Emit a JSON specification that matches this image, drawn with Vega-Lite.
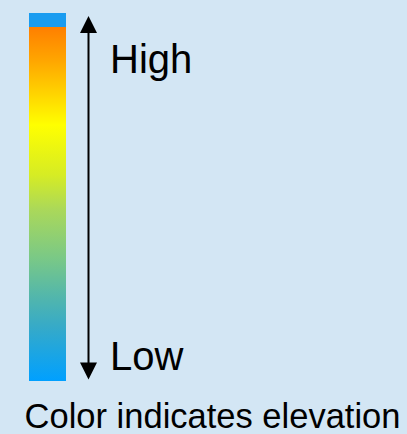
{
  "$schema": "https://vega.github.io/schema/vega-lite/v6.json",
  "width": 407,
  "height": 434,
  "padding": 0,
  "autosize": "none",
  "background": "#d3e6f4",
  "config": {"view": {"stroke": null}, "font": "Liberation Sans"},
  "datasets": {
    "bar": [
      {"part": "cap", "x0": 29, "x1": 66, "top": 13, "bottom": 27},
      {"part": "ramp", "x0": 29, "x1": 66, "top": 27, "bottom": 381}
    ],
    "arrow": [
      {"end": "high", "x": 88.5, "y": 24.5},
      {"end": "low", "x": 88.5, "y": 371}
    ],
    "labels": [
      {"label": "High", "x": 110, "y": 73},
      {"label": "Low", "x": 110, "y": 370}
    ],
    "caption": [
      {"label": "Color indicates elevation", "x": 212.5, "y": 428}
    ]
  },
  "layer": [
    {
      "data": {"name": "bar"},
      "transform": [{"filter": "datum.part === 'cap'"}],
      "mark": {"type": "rect", "fill": "#1a9cf0"},
      "encoding": {
        "x": {"field": "x0", "type": "quantitative", "scale": {"domain": [0, 407], "nice": false, "zero": false}, "axis": null},
        "x2": {"field": "x1"},
        "y": {"field": "top", "type": "quantitative", "scale": {"domain": [0, 434], "nice": false, "zero": false, "reverse": true}, "axis": null},
        "y2": {"field": "bottom"}
      }
    },
    {
      "data": {"name": "bar"},
      "transform": [{"filter": "datum.part === 'ramp'"}],
      "mark": {
        "type": "rect",
        "fill": {
          "gradient": "linear",
          "x1": 0, "y1": 0, "x2": 0, "y2": 1,
          "stops": [
            {"offset": 0, "color": "#ff7f00"},
            {"offset": 0.093, "color": "#ffa500"},
            {"offset": 0.277, "color": "#ffff00"},
            {"offset": 0.418, "color": "#d6ec24"},
            {"offset": 0.517, "color": "#aad85a"},
            {"offset": 0.658, "color": "#78c888"},
            {"offset": 0.751, "color": "#56b8a8"},
            {"offset": 0.847, "color": "#36aac8"},
            {"offset": 1, "color": "#00a0ff"}
          ]
        }
      },
      "encoding": {
        "x": {"field": "x0", "type": "quantitative", "scale": {"domain": [0, 407], "nice": false, "zero": false}, "axis": null},
        "x2": {"field": "x1"},
        "y": {"field": "top", "type": "quantitative", "scale": {"domain": [0, 434], "nice": false, "zero": false, "reverse": true}, "axis": null},
        "y2": {"field": "bottom"}
      }
    },
    {
      "data": {"name": "arrow"},
      "mark": {"type": "line", "color": "black", "strokeWidth": 2},
      "encoding": {
        "x": {"field": "x", "type": "quantitative", "axis": null},
        "y": {"field": "y", "type": "quantitative", "axis": null}
      }
    },
    {
      "data": {"name": "arrow"},
      "transform": [{"filter": "datum.end === 'high'"}],
      "mark": {"type": "point", "shape": "M0,-1L-1,1L1,1Z", "filled": true, "color": "black", "opacity": 1, "size": 289},
      "encoding": {
        "x": {"field": "x", "type": "quantitative", "axis": null},
        "y": {"field": "y", "type": "quantitative", "axis": null}
      }
    },
    {
      "data": {"name": "arrow"},
      "transform": [{"filter": "datum.end === 'low'"}],
      "mark": {"type": "point", "shape": "M0,1L-1,-1L1,-1Z", "filled": true, "color": "black", "opacity": 1, "size": 289},
      "encoding": {
        "x": {"field": "x", "type": "quantitative", "axis": null},
        "y": {"field": "y", "type": "quantitative", "axis": null}
      }
    },
    {
      "data": {"name": "labels"},
      "mark": {"type": "text", "align": "left", "baseline": "alphabetic", "fontSize": 40, "color": "black"},
      "encoding": {
        "x": {"field": "x", "type": "quantitative", "axis": null},
        "y": {"field": "y", "type": "quantitative", "axis": null},
        "text": {"field": "label"}
      }
    },
    {
      "data": {"name": "caption"},
      "mark": {"type": "text", "align": "center", "baseline": "alphabetic", "fontSize": 34.5, "color": "black"},
      "encoding": {
        "x": {"field": "x", "type": "quantitative", "axis": null},
        "y": {"field": "y", "type": "quantitative", "axis": null},
        "text": {"field": "label"}
      }
    }
  ]
}
